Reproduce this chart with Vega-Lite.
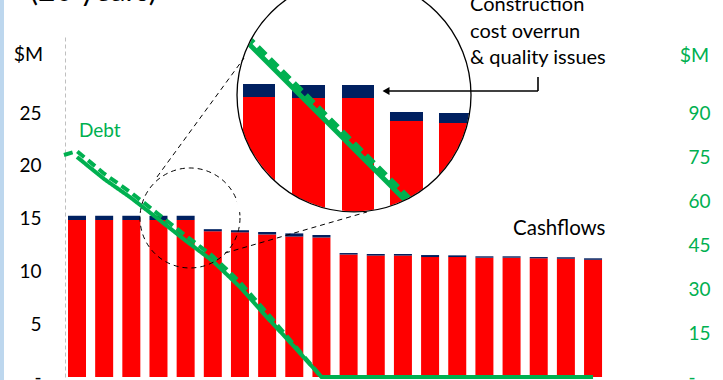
{
  "$schema": "https://vega.github.io/schema/vega-lite/v6.json",
  "width": 595,
  "height": 340,
  "autosize": {"type": "none"},
  "padding": {"left": 65, "top": 37, "right": 63, "bottom": 3},
  "background": "white",
  "config": {"view": {"stroke": null}, "font": "Lato"},
  "datasets": {
    "bars": [
      {"year": 1, "part": "base", "value": 14.87}, {"year": 1, "part": "overrun", "value": 0.4},
      {"year": 2, "part": "base", "value": 14.87}, {"year": 2, "part": "overrun", "value": 0.4},
      {"year": 3, "part": "base", "value": 14.87}, {"year": 3, "part": "overrun", "value": 0.4},
      {"year": 4, "part": "base", "value": 14.87}, {"year": 4, "part": "overrun", "value": 0.4},
      {"year": 5, "part": "base", "value": 14.87}, {"year": 5, "part": "overrun", "value": 0.4},
      {"year": 6, "part": "base", "value": 13.8}, {"year": 6, "part": "overrun", "value": 0.2},
      {"year": 7, "part": "base", "value": 13.7}, {"year": 7, "part": "overrun", "value": 0.2},
      {"year": 8, "part": "base", "value": 13.5}, {"year": 8, "part": "overrun", "value": 0.23},
      {"year": 9, "part": "base", "value": 13.3}, {"year": 9, "part": "overrun", "value": 0.3},
      {"year": 10, "part": "base", "value": 13.2}, {"year": 10, "part": "overrun", "value": 0.25},
      {"year": 11, "part": "base", "value": 11.6}, {"year": 11, "part": "overrun", "value": 0.14},
      {"year": 12, "part": "base", "value": 11.5}, {"year": 12, "part": "overrun", "value": 0.15},
      {"year": 13, "part": "base", "value": 11.5}, {"year": 13, "part": "overrun", "value": 0.15},
      {"year": 14, "part": "base", "value": 11.36}, {"year": 14, "part": "overrun", "value": 0.19},
      {"year": 15, "part": "base", "value": 11.36}, {"year": 15, "part": "overrun", "value": 0.16},
      {"year": 16, "part": "base", "value": 11.3}, {"year": 16, "part": "overrun", "value": 0.13},
      {"year": 17, "part": "base", "value": 11.3}, {"year": 17, "part": "overrun", "value": 0.13},
      {"year": 18, "part": "base", "value": 11.24}, {"year": 18, "part": "overrun", "value": 0.12},
      {"year": 19, "part": "base", "value": 11.2}, {"year": 19, "part": "overrun", "value": 0.14},
      {"year": 20, "part": "base", "value": 11.1}, {"year": 20, "part": "overrun", "value": 0.14}
    ],
    "debt": [
      {"series": "actual", "year": 1, "debt": 75.0}, {"series": "actual", "year": 2, "debt": 67.5},
      {"series": "actual", "year": 3, "debt": 61.0}, {"series": "actual", "year": 4, "debt": 53.8},
      {"series": "actual", "year": 5, "debt": 46.5}, {"series": "actual", "year": 6, "debt": 39.5},
      {"series": "actual", "year": 7, "debt": 30.7}, {"series": "actual", "year": 8, "debt": 20.3},
      {"series": "actual", "year": 9, "debt": 10.3}, {"series": "actual", "year": 10, "debt": 0},
      {"series": "actual", "year": 11, "debt": 0}, {"series": "actual", "year": 12, "debt": 0},
      {"series": "actual", "year": 13, "debt": 0}, {"series": "actual", "year": 14, "debt": 0},
      {"series": "actual", "year": 15, "debt": 0}, {"series": "actual", "year": 16, "debt": 0},
      {"series": "actual", "year": 17, "debt": 0}, {"series": "actual", "year": 18, "debt": 0},
      {"series": "actual", "year": 19, "debt": 0}, {"series": "actual", "year": 20, "debt": 0},
      {"series": "original", "year": 0.52, "debt": 75.7}, {"series": "original", "year": 1, "debt": 77.0},
      {"series": "original", "year": 2, "debt": 69.3}, {"series": "original", "year": 3, "debt": 62.8},
      {"series": "original", "year": 4, "debt": 55.5}, {"series": "original", "year": 5, "debt": 48.2},
      {"series": "original", "year": 6, "debt": 41.2}, {"series": "original", "year": 7, "debt": 32.3},
      {"series": "original", "year": 8, "debt": 21.8}, {"series": "original", "year": 9, "debt": 10.9},
      {"series": "original", "year": 10, "debt": 0}
    ],
    "zoomBars": [
      {"x": 7.112, "x2": 8.29, "y": 15.63, "y2": 26.52, "part": "base"},
      {"x": 7.112, "x2": 8.29, "y": 26.52, "y2": 27.75, "part": "overrun"},
      {"x": 8.916, "x2": 10.131, "y": 15.63, "y2": 26.42, "part": "base"},
      {"x": 8.916, "x2": 10.131, "y": 26.42, "y2": 27.65, "part": "overrun"},
      {"x": 10.757, "x2": 11.935, "y": 15.63, "y2": 26.42, "part": "base"},
      {"x": 10.757, "x2": 11.935, "y": 26.42, "y2": 27.65, "part": "overrun"},
      {"x": 12.524, "x2": 13.739, "y": 15.63, "y2": 24.24, "part": "base"},
      {"x": 12.524, "x2": 13.739, "y": 24.24, "y2": 25.1, "part": "overrun"},
      {"x": 14.328, "x2": 15.506, "y": 15.63, "y2": 24.06, "part": "base"},
      {"x": 14.328, "x2": 15.506, "y": 24.06, "y2": 25.0, "part": "overrun"}
    ],
    "zoomSolid": [{"x": 7.001, "y": 32.39}, {"x": 13.15, "y": 16.57}],
    "zoomDashed": [{"x": 7.222, "y": 32.39}, {"x": 13.371, "y": 16.57}],
    "lens": [{"x": 11.199, "y": 26.71}],
    "spot": [{"x": 5.16, "y": 15.06}],
    "tangents": [
      {"x": 3.945, "y": 18.94, "x2": 7.149, "y2": 30.21},
      {"x": 6.449, "y": 11.74, "x2": 11.677, "y2": 15.63}
    ],
    "arrow": [
      {"x": 17.973, "y": 28.41, "x2": 17.973, "y2": 27.09},
      {"x": 17.973, "y": 27.09, "x2": 12.35, "y2": 27.09}
    ],
    "arrowHead": [{"x": 12.377, "y": 27.09}],
    "strip": [{"x": -1.835, "x2": -1.688, "y": -0.3, "y2": 35.8}]
  },
  "layer": [
    {
      "data": {"name": "bars"},
      "mark": {"type": "bar", "size": 18},
      "encoding": {
        "x": {
          "field": "year", "type": "quantitative",
          "scale": {"domain": [0.558, 22.465], "nice": false, "zero": false, "padding": 0},
          "axis": {"orient": "bottom", "labels": false, "ticks": false, "grid": false, "domain": true, "domainColor": "#000000", "domainWidth": 1.2, "title": null}
        },
        "y": {
          "field": "value", "type": "quantitative", "stack": "zero",
          "scale": {"domain": [0, 32.2], "nice": false},
          "axis": {
            "orient": "left", "values": [0, 5, 10, 15, 20, 25],
            "labelExpr": "datum.value == 0 ? '-' : datum.label",
            "ticks": false, "grid": false, "domain": true,
            "domainColor": "#BFBFBF", "domainDash": [4, 3], "domainWidth": 1,
            "labelFont": "Lato", "labelFontSize": 19, "labelColor": "#000000", "labelPadding": 24,
            "title": "$M", "titleAngle": 0, "titleX": -37, "titleY": 17,
            "titleAlign": "center", "titleBaseline": "middle",
            "titleFont": "Lato", "titleFontSize": 19.5, "titleFontWeight": "normal", "titleColor": "#000000"
          }
        },
        "color": {
          "field": "part", "type": "nominal",
          "scale": {"domain": ["base", "overrun"], "range": ["#FF0000", "#002060"]},
          "legend": null
        },
        "order": {"field": "part", "sort": "ascending"}
      }
    },
    {
      "data": {"name": "debt"},
      "mark": {"type": "line", "color": "#00B050", "strokeWidth": 4},
      "encoding": {
        "x": {"field": "year", "type": "quantitative", "scale": {"domain": [0.558, 22.465], "nice": false, "zero": false, "padding": 0}, "axis": null},
        "y": {
          "field": "debt", "type": "quantitative",
          "scale": {"domain": [0, 115.92], "nice": false},
          "axis": {
            "orient": "right", "values": [0, 15, 30, 45, 60, 75, 90],
            "labelExpr": "datum.value == 0 ? '-' : datum.label",
            "ticks": false, "grid": false, "domain": false,
            "labelFont": "Lato", "labelFontSize": 19, "labelColor": "#00B050", "labelPadding": 28,
            "title": "$M", "titleAngle": 0, "titleX": 34, "titleY": 18,
            "titleAlign": "center", "titleBaseline": "middle",
            "titleFont": "Lato", "titleFontSize": 19.5, "titleFontWeight": "normal", "titleColor": "#00B050"
          }
        },
        "strokeDash": {
          "field": "series", "type": "nominal",
          "scale": {"domain": ["actual", "original"], "range": [[1, 0], [9, 5]]},
          "legend": null
        }
      }
    },
    {
      "layer": [
        {
          "data": {"name": "strip"},
          "mark": {"type": "rect", "color": "#BDD7EE"},
          "encoding": {
            "x": {"field": "x", "type": "quantitative", "scale": {"domain": [0.558, 22.465], "nice": false, "zero": false, "padding": 0}, "axis": null},
            "x2": {"field": "x2"},
            "y": {"field": "y", "type": "quantitative", "scale": {"domain": [0, 32.2], "nice": false}, "axis": null},
            "y2": {"field": "y2"}
          }
        },
        {
          "data": {"name": "spot"},
          "mark": {"type": "point", "shape": "circle", "size": 10000, "filled": false, "stroke": "#000000", "strokeWidth": 1, "strokeDash": [5, 4], "opacity": 1},
          "encoding": {
            "x": {"field": "x", "type": "quantitative", "axis": null},
            "y": {"field": "y", "type": "quantitative", "axis": null}
          }
        },
        {
          "data": {"name": "zoomBars"},
          "mark": {"type": "rect"},
          "encoding": {
            "x": {"field": "x", "type": "quantitative", "axis": null},
            "x2": {"field": "x2"},
            "y": {"field": "y", "type": "quantitative", "axis": null},
            "y2": {"field": "y2"},
            "color": {"field": "part", "type": "nominal", "scale": {"domain": ["base", "overrun"], "range": ["#FF0000", "#002060"]}, "legend": null}
          }
        },
        {
          "data": {"name": "zoomSolid"},
          "mark": {"type": "line", "color": "#00B050", "strokeWidth": 5},
          "encoding": {
            "x": {"field": "x", "type": "quantitative", "axis": null},
            "y": {"field": "y", "type": "quantitative", "axis": null}
          }
        },
        {
          "data": {"name": "zoomDashed"},
          "mark": {"type": "line", "color": "#00B050", "strokeWidth": 5, "strokeDash": [11, 6]},
          "encoding": {
            "x": {"field": "x", "type": "quantitative", "axis": null},
            "y": {"field": "y", "type": "quantitative", "axis": null}
          }
        },
        {
          "data": {"name": "lens"},
          "mark": {"type": "point", "shape": "M-1,-1L1,-1L1,1L-1,1ZM0.995,0A0.995,0.995,0,1,0,-0.995,0A0.995,0.995,0,1,0,0.995,0Z", "size": 54756, "filled": true, "fill": "#FFFFFF", "strokeWidth": 0, "opacity": 1},
          "encoding": {
            "x": {"field": "x", "type": "quantitative", "axis": null},
            "y": {"field": "y", "type": "quantitative", "axis": null}
          }
        },
        {
          "data": {"name": "lens"},
          "mark": {"type": "point", "shape": "circle", "size": 54756, "filled": false, "stroke": "#000000", "strokeWidth": 1.3, "opacity": 1},
          "encoding": {
            "x": {"field": "x", "type": "quantitative", "axis": null},
            "y": {"field": "y", "type": "quantitative", "axis": null}
          }
        },
        {
          "data": {"name": "tangents"},
          "mark": {"type": "rule", "color": "#000000", "strokeWidth": 1, "strokeDash": [5, 4]},
          "encoding": {
            "x": {"field": "x", "type": "quantitative", "axis": null},
            "y": {"field": "y", "type": "quantitative", "axis": null},
            "x2": {"field": "x2"},
            "y2": {"field": "y2"}
          }
        },
        {
          "data": {"name": "arrow"},
          "mark": {"type": "rule", "color": "#000000", "strokeWidth": 1.6},
          "encoding": {
            "x": {"field": "x", "type": "quantitative", "axis": null},
            "y": {"field": "y", "type": "quantitative", "axis": null},
            "x2": {"field": "x2"},
            "y2": {"field": "y2"}
          }
        },
        {
          "data": {"name": "arrowHead"},
          "mark": {"type": "point", "shape": "triangle-left", "size": 64, "filled": true, "color": "#000000", "opacity": 1},
          "encoding": {
            "x": {"field": "x", "type": "quantitative", "axis": null},
            "y": {"field": "y", "type": "quantitative", "axis": null}
          }
        },
        {
          "data": {"values": [{"x": 15.47, "y": 34.66, "label": "Construction\ncost overrun\n& quality issues"}]},
          "mark": {"type": "text", "align": "left", "baseline": "alphabetic", "lineBreak": "\n", "lineHeight": 26.5, "font": "Lato", "fontSize": 20, "color": "#000000"},
          "encoding": {
            "x": {"field": "x", "type": "quantitative", "axis": null},
            "y": {"field": "y", "type": "quantitative", "axis": null},
            "text": {"field": "label"}
          }
        },
        {
          "data": {"values": [{"x": 17.053, "y": 13.45, "label": "Cashflows"}]},
          "mark": {"type": "text", "align": "left", "baseline": "alphabetic", "font": "Lato", "fontSize": 20.5, "color": "#000000"},
          "encoding": {
            "x": {"field": "x", "type": "quantitative", "axis": null},
            "y": {"field": "y", "type": "quantitative", "axis": null},
            "text": {"field": "label"}
          }
        },
        {
          "data": {"values": [{"x": 1.073, "y": 22.73, "label": "Debt"}]},
          "mark": {"type": "text", "align": "left", "baseline": "alphabetic", "font": "Lato", "fontSize": 19, "color": "#00B050"},
          "encoding": {
            "x": {"field": "x", "type": "quantitative", "axis": null},
            "y": {"field": "y", "type": "quantitative", "axis": null},
            "text": {"field": "label"}
          }
        },
        {
          "data": {"values": [{"x": -0.731, "y": 35.61, "label": "(20 years)"}]},
          "mark": {"type": "text", "align": "left", "baseline": "alphabetic", "font": "Lato", "fontSize": 30, "color": "#000000"},
          "encoding": {
            "x": {"field": "x", "type": "quantitative", "axis": null},
            "y": {"field": "y", "type": "quantitative", "axis": null},
            "text": {"field": "label"}
          }
        }
      ]
    }
  ],
  "resolve": {"scale": {"y": "independent"}}
}
